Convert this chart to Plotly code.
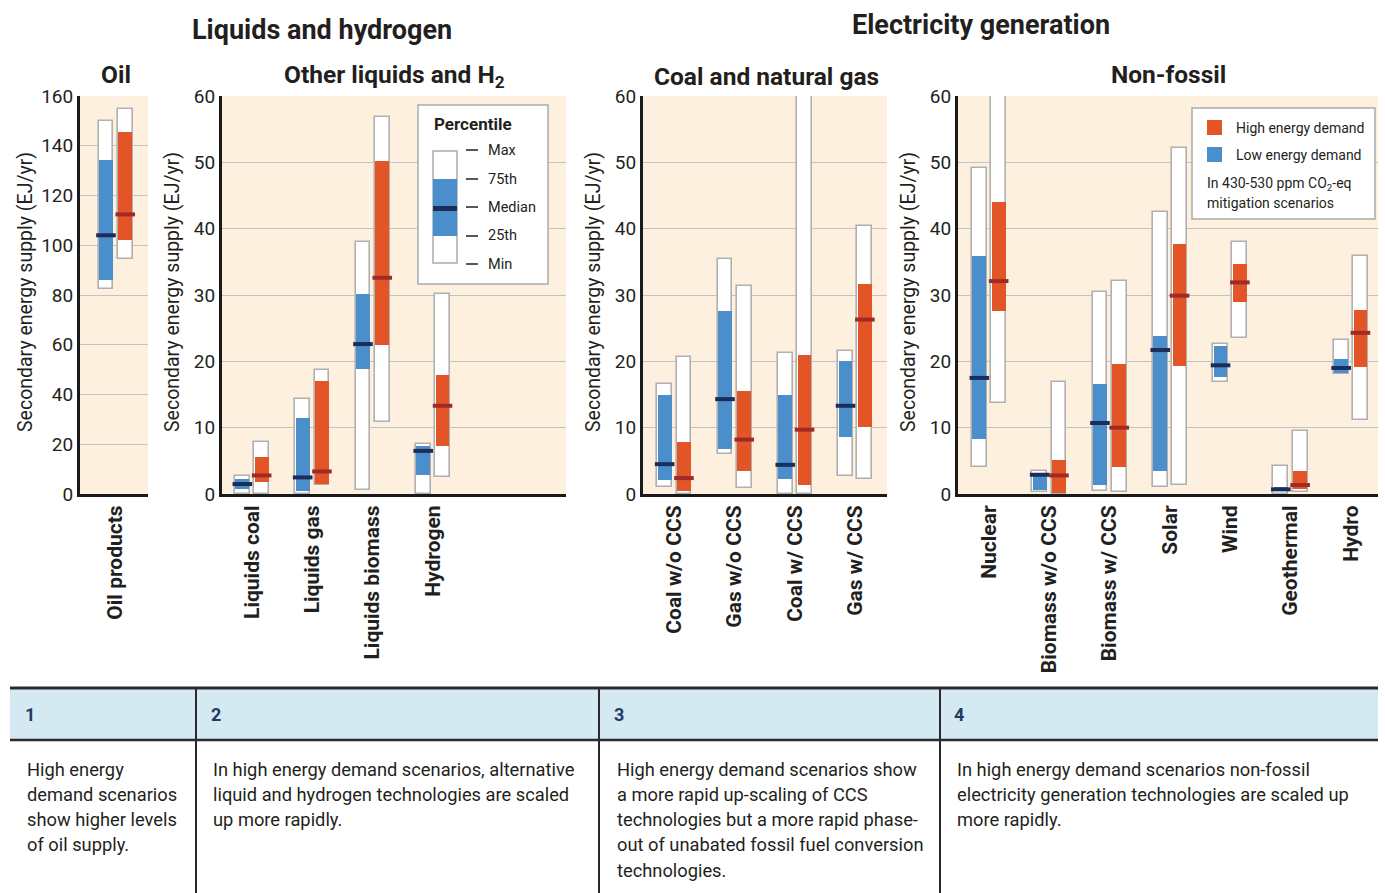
import plotly.graph_objects as go

W, H = 1385, 893

# ---------------- data: (min, 25th, median, 75th, max) ----------------
oil_cats = ["Oil products"]
oil_low = [(82.5, 86.2, 104.0, 134.4, 150.1)]
oil_high = [(94.3, 102.3, 112.4, 145.6, 154.7)]

liq_cats = ["Liquids coal", "Liquids gas", "Liquids biomass", "Hydrogen"]
liq_low = [(0.0, 0.8, 1.5, 2.3, 2.7), (0.0, 0.5, 2.5, 11.4, 14.3),
           (0.6, 18.8, 22.6, 30.1, 38.0), (0.0, 2.8, 6.5, 7.3, 7.5)]
liq_high = [(0.0, 1.8, 2.8, 5.6, 7.8), (1.3, 1.5, 3.4, 17.1, 18.7),
            (10.9, 22.5, 32.6, 50.2, 56.9), (2.5, 7.3, 13.3, 18.0, 30.1)]

fos_cats = ["Coal w/o CCS", "Gas w/o CCS", "Coal w/ CCS", "Gas w/ CCS"]
fos_low = [(1.0, 2.1, 4.5, 15.0, 16.6), (6.0, 6.8, 14.3, 27.6, 35.4),
           (0.0, 2.2, 4.4, 15.0, 21.2), (2.7, 8.6, 13.3, 20.1, 21.5)]
fos_high = [(0.0, 0.5, 2.4, 7.9, 20.6), (0.9, 3.4, 8.2, 15.6, 31.3),
            (0.0, 1.4, 9.7, 21.0, 62.0), (2.3, 10.1, 26.3, 31.7, 40.4)]

nf_cats = ["Nuclear", "Biomass w/o CCS", "Biomass w/ CCS", "Solar", "Wind", "Geothermal", "Hydro"]
nf_low = [(4.0, 8.3, 17.5, 35.9, 49.2), (0.25, 0.6, 2.9, 3.2, 3.4),
          (0.4, 1.4, 10.7, 16.6, 30.5), (1.0, 3.4, 21.7, 23.8, 42.5),
          (16.9, 17.6, 19.4, 22.3, 22.6), (0.0, 0.4, 0.7, 1.1, 4.2),
          (18.1, 18.3, 19.0, 20.4, 23.2)]
nf_high = [(13.65, 27.6, 32.1, 44.0, 62.0), (0.0, 0.1, 2.8, 5.2, 16.9),
           (0.35, 4.0, 10.0, 19.6, 32.1), (1.36, 19.3, 29.9, 37.7, 52.2),
           (23.5, 29.0, 31.9, 34.7, 38.0), (0.35, 0.75, 1.36, 3.4, 9.5),
           (11.1, 19.1, 24.3, 27.8, 35.9)]

y_title = "Secondary energy supply (EJ/yr)"
notes_head = ["1", "2", "3", "4"]
notes_body = [
    ["High energy", "demand scenarios", "show higher levels", "of oil supply."],
    ["In high energy demand scenarios, alternative",
     "liquid and hydrogen technologies are scaled", "up more rapidly."],
    ["High energy demand scenarios show", "a more rapid up-scaling of CCS",
     "technologies but a more rapid phase-", "out of unabated fossil fuel conversion",
     "technologies."],
    ["In high energy demand scenarios non-fossil",
     "electricity generation technologies are scaled up", "more rapidly."],
]

# ---------------- style ----------------
FONT = "Roboto"
BLUE = "#4A8FCC"
RED = "#E35426"
BLUE_MED = "#1B2D58"
RED_MED = "#A02A28"
PEACH = "#FDF0DF"
GRID = "#C2C2C2"
OUTLINE = "#B0B0B0"
TXT = "#231F20"
NAVY = "#1F3A6B"


def px(x):
    return x / W


def py(y):
    return 1 - y / H


PX_PER_CAT = 60.3
OFF = 0.16
BW = 0.245

# panel: cats, low, high, ymax, dtick, left px, right px, first category centre px, ytitle x
panels = [
    (oil_cats, oil_low, oil_high, 160, 20, 80, 148, 115.6, 25),
    (liq_cats, liq_low, liq_high, 60, 10, 222, 566, 252.0, 172),
    (fos_cats, fos_low, fos_high, 60, 10, 643, 887, 674.3, 593),
    (nf_cats, nf_low, nf_high, 60, 10, 958, 1378, 989.0, 908),
]

fig = go.Figure()
layout = {}
annotations = []
shapes = []

Y0, Y1 = 494, 96

for i, (cats, low, high, ymax, dtick, x0, x1, c0, ytx) in enumerate(panels, start=1):
    xa = "x" if i == 1 else f"x{i}"
    ya = "y" if i == 1 else f"y{i}"
    n = len(cats)
    for series, off, col, mcol in [(low, -OFF, BLUE, BLUE_MED), (high, OFF, RED, RED_MED)]:
        xs = [k + off for k in range(n)]
        mins = [s[0] for s in series]
        q1 = [s[1] for s in series]
        med = [s[2] for s in series]
        q3 = [s[3] for s in series]
        mx = [s[4] for s in series]
        fig.add_trace(go.Bar(
            x=xs, y=[b - a for a, b in zip(mins, mx)], base=mins, width=BW,
            marker=dict(color="white", line=dict(color=OUTLINE, width=1.6)),
            xaxis=xa, yaxis=ya, showlegend=False, hoverinfo="skip"))
        fig.add_trace(go.Bar(
            x=xs, y=[b - a for a, b in zip(q1, q3)], base=q1, width=BW * 0.93,
            marker=dict(color=col, line=dict(width=0)),
            xaxis=xa, yaxis=ya, showlegend=False, hoverinfo="skip"))
        fig.add_trace(go.Scatter(
            x=xs, y=med, mode="markers",
            marker=dict(symbol="line-ew", size=14, line=dict(color=mcol, width=4)),
            xaxis=xa, yaxis=ya, showlegend=False, hoverinfo="skip"))

    r0 = -(c0 - x0) / PX_PER_CAT
    r1 = (x1 - c0) / PX_PER_CAT
    key = "" if i == 1 else str(i)
    layout["xaxis" + key] = dict(
        domain=[px(x0), px(x1)], range=[r0, r1], anchor=ya, automargin=False,
        tickvals=list(range(n)), ticktext=cats, tickangle=-90,
        tickfont=dict(family=FONT, size=21, color=TXT, weight="bold"),
        showline=True, linecolor="#1A1A1A", linewidth=3, showgrid=False,
        zeroline=False, ticks="", fixedrange=True)
    layout["yaxis" + key] = dict(
        domain=[py(Y0), py(Y1)], range=[0, ymax], dtick=dtick, anchor=xa, automargin=False,
        showgrid=True, gridcolor=GRID, gridwidth=1.2,
        showline=True, linecolor="#1A1A1A", linewidth=3, zeroline=False,
        ticks="", ticklabelstandoff=0,
        tickfont=dict(family=FONT, size=19, color=TXT), fixedrange=True)
    annotations.append(dict(
        x=px(ytx), y=py(292), xref="paper", yref="paper", text=y_title,
        textangle=-90, showarrow=False, xanchor="center", yanchor="middle",
        font=dict(family=FONT, size=19.5, color=TXT)))

# titles
for text, x, y, size in [
    ("Liquids and hydrogen", 322, 30, 27),
    ("Electricity generation", 981, 25, 27),
    ("Oil", 116, 75, 24.5),
    ("Other liquids and H<sub>2</sub>", 394, 76, 24.5),
    ("Coal and natural gas", 766, 76, 24.5),
    ("Non-fossil", 1168, 75, 24.5),
]:
    annotations.append(dict(
        x=px(x), y=py(y), xref="paper", yref="paper", text=f"<b>{text}</b>",
        showarrow=False, xanchor="center", yanchor="middle",
        font=dict(family=FONT, size=size, color=TXT)))

# percentile legend
shapes.append(dict(type="rect", xref="paper", yref="paper", x0=px(418), x1=px(548),
                   y0=py(284), y1=py(105), fillcolor="white",
                   line=dict(color="#AAAAAA", width=1.5)))
shapes.append(dict(type="rect", xref="paper", yref="paper", x0=px(433), x1=px(457),
                   y0=py(263), y1=py(151), fillcolor="white",
                   line=dict(color="#AAAAAA", width=1.5)))
shapes.append(dict(type="rect", xref="paper", yref="paper", x0=px(433), x1=px(457),
                   y0=py(236), y1=py(179), fillcolor=BLUE, line=dict(width=0)))
shapes.append(dict(type="rect", xref="paper", yref="paper", x0=px(433), x1=px(457),
                   y0=py(211), y1=py(206), fillcolor=BLUE_MED, line=dict(width=0)))
annotations.append(dict(x=px(432), y=py(124), xref="paper", yref="paper",
                        text="<b>Percentile</b>", showarrow=False, xanchor="left",
                        yanchor="middle", font=dict(family=FONT, size=17, color=TXT)))
for lab, yy in zip(["Max", "75th", "Median", "25th", "Min"], [150, 179, 207, 236, 264]):
    shapes.append(dict(type="line", xref="paper", yref="paper", x0=px(466), x1=px(478),
                       y0=py(yy), y1=py(yy), line=dict(color=TXT, width=1.5)))
    annotations.append(dict(x=px(486), y=py(yy), xref="paper", yref="paper", text=lab,
                            showarrow=False, xanchor="left", yanchor="middle",
                            font=dict(family=FONT, size=14.5, color=TXT)))

# demand legend
shapes.append(dict(type="rect", xref="paper", yref="paper", x0=px(1192), x1=px(1375),
                   y0=py(219), y1=py(108), fillcolor="white",
                   line=dict(color="#AAAAAA", width=1.5)))
shapes.append(dict(type="rect", xref="paper", yref="paper", x0=px(1207), x1=px(1222),
                   y0=py(135), y1=py(120), fillcolor=RED, line=dict(width=0)))
shapes.append(dict(type="rect", xref="paper", yref="paper", x0=px(1207), x1=px(1222),
                   y0=py(162), y1=py(147), fillcolor=BLUE, line=dict(width=0)))
for text, x, y in [("High energy demand", 1234, 128), ("Low energy demand", 1234, 155),
                   ("In 430-530 ppm CO<sub>2</sub>-eq", 1205, 184),
                   ("mitigation scenarios", 1205, 203)]:
    annotations.append(dict(x=px(x), y=py(y), xref="paper", yref="paper", text=text,
                            showarrow=False, xanchor="left", yanchor="middle",
                            font=dict(family=FONT, size=14, color=TXT)))

# notes table
shapes.append(dict(type="rect", xref="paper", yref="paper", x0=px(10), x1=px(1378),
                   y0=py(740), y1=py(688), fillcolor="#D4E9F1", line=dict(width=0)))
shapes.append(dict(type="line", xref="paper", yref="paper", x0=px(10), x1=px(1378),
                   y0=py(688), y1=py(688), line=dict(color="#2A2A2A", width=3)))
shapes.append(dict(type="line", xref="paper", yref="paper", x0=px(10), x1=px(1378),
                   y0=py(740), y1=py(740), line=dict(color="#2A2A2A", width=2.5)))
for xv in [196, 599, 940]:
    shapes.append(dict(type="line", xref="paper", yref="paper", x0=px(xv), x1=px(xv),
                       y0=py(688), y1=py(893), line=dict(color="#2A2A2A", width=2)))
for head, lines, xh, xb in zip(notes_head, notes_body, [23, 209, 612, 952], [25, 211, 615, 955]):
    annotations.append(dict(x=px(xh), y=py(714), xref="paper", yref="paper",
                            text=f"<b>{head}</b>", showarrow=False, xanchor="left",
                            yanchor="middle", font=dict(family=FONT, size=18, color=NAVY)))
    for j, line in enumerate(lines):
        annotations.append(dict(x=px(xb), y=py(769 + 25.3 * j), xref="paper", yref="paper",
                                text=line, showarrow=False, xanchor="left",
                                yanchor="middle", font=dict(family=FONT, size=18.3, color=TXT)))

fig.update_layout(
    width=W, height=H, autosize=False,
    margin=dict(l=0, r=0, t=0, b=0, pad=0, autoexpand=False),
    paper_bgcolor="white", plot_bgcolor=PEACH,
    barmode="overlay", bargap=0,
    showlegend=False,
    annotations=annotations, shapes=shapes,
    font=dict(family=FONT, color=TXT),
    **layout,
)

fig.write_html(
    "out.html",
    config={"displayModeBar": False},
    post_script=(
        "document.documentElement.style.margin='0';"
        "document.body.style.margin='0';document.body.style.overflow='hidden';"
    ),
)
